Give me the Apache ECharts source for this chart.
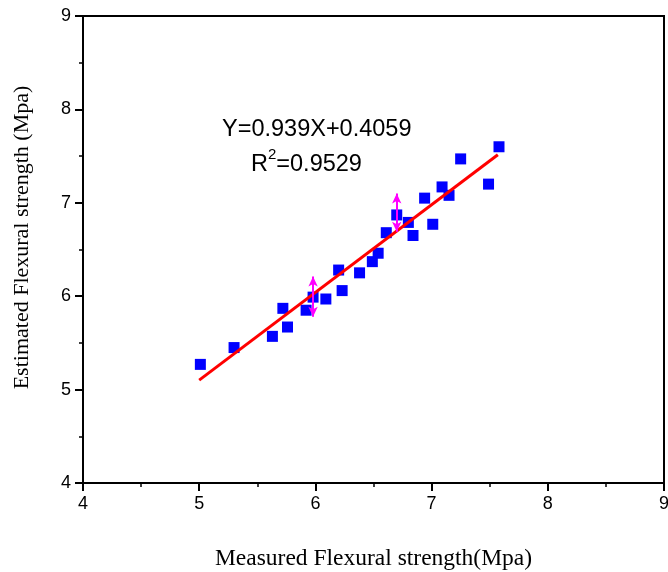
<!DOCTYPE html>
<html>
<head>
<meta charset="utf-8">
<title>Flexural strength: estimated vs measured</title>
<script src="https://cdn.jsdelivr.net/npm/echarts@6/dist/echarts.min.js"></script>
<style>
  html, body { margin: 0; padding: 0; background: #fff; }
  #chart { width: 668px; height: 572px; }
</style>
</head>
<body>
<div id="chart"></div>
<script>
// Measured vs estimated flexural strength (MPa), one pair per specimen
const measured = [5.01, 5.30, 5.63, 5.72, 5.76, 5.92, 5.98, 6.09, 6.20, 6.23, 6.38, 6.49,
                  6.54, 6.61, 6.70, 6.80, 6.84, 6.94, 7.01, 7.09, 7.15, 7.25, 7.49, 7.58];
const estimated = [5.27, 5.45, 5.57, 5.87, 5.67, 5.85, 5.99, 5.97, 6.28, 6.06, 6.25, 6.37,
                   6.46, 6.68, 6.87, 6.79, 6.65, 7.05, 6.77, 7.17, 7.08, 7.47, 7.20, 7.60];

// Linear fit Y = slope * X + intercept, drawn over the measured range
const slope = 0.939;
const intercept = 0.4059;
const rSquared = 0.9529;
const fitRange = [5.0, 7.57];

// Highlighted specimens with their spread (vertical double arrows)
const arrowX = [5.98, 6.70];
const arrowLow = [5.78, 6.69];
const arrowHigh = [6.21, 7.10];

// Axis ticks
const axisMin = 4;
const axisMax = 9;
const axisStep = 1;

const points = measured.map((m, i) => [m, estimated[i]]);
const fitLine = fitRange.map(x => [x, slope * x + intercept]);
const arrows = arrowX.map((x, i) => [{ coord: [x, arrowLow[i]] }, { coord: [x, arrowHigh[i]] }]);

const sans = 'Liberation Sans, Arial, sans-serif';
const serif = 'Liberation Serif, Times New Roman, serif';

function valueAxis(name, gap, extra) {
  return Object.assign({
    type: 'value',
    min: axisMin,
    max: axisMax,
    interval: axisStep,
    name: name,
    nameLocation: 'middle',
    nameGap: gap,
    nameTextStyle: { fontFamily: serif, fontSize: 23.5, color: '#000' },
    axisLine: { show: true, onZero: false, lineStyle: { color: '#000', width: 2 } },
    axisTick: { show: true, inside: false, length: 8, lineStyle: { color: '#000', width: 2 } },
    minorTick: { show: true, splitNumber: 2, length: 4, lineStyle: { color: '#000', width: 1.5 } },
    axisLabel: { fontFamily: sans, fontSize: 18, color: '#000', margin: 12, showMaxLabel: true, showMinLabel: true },
    splitLine: { show: false }
  }, extra || {});
}

const chart = echarts.init(document.getElementById('chart'), null, { renderer: 'canvas' });

chart.setOption({
  animation: false,
  backgroundColor: '#fff',
  grid: {
    left: 83, right: 4, top: 16, bottom: 89,
    outerBoundsMode: 'none',
    containLabel: false,
    show: true, borderColor: '#000', borderWidth: 2, backgroundColor: 'transparent'
  },
  xAxis: valueAxis('Measured Flexural strength(Mpa)', 64),
  yAxis: valueAxis('Estimated Flexural strength (Mpa)', 50, {
    nameRotate: 90,
    nameTextStyle: { fontFamily: serif, fontSize: 22, color: '#000', padding: [0, 0, 0, 24] }
  }),
  graphic: [
    {
      type: 'text', left: 222, top: 118, z: 100,
      style: { text: 'Y=' + slope + 'X+' + intercept, font: '23.5px ' + sans, fill: '#000' }
    },
    {
      type: 'text', left: 251, top: 147, z: 100,
      style: {
        text: '{b|R}{s|2}{b|=' + rSquared + '}',
        font: '23.5px ' + sans, fill: '#000',
        rich: {
          b: { fontFamily: sans, fontSize: 23.5, fill: '#000', verticalAlign: 'bottom' },
          s: { fontFamily: sans, fontSize: 15, fill: '#000', verticalAlign: 'top', padding: [0, 0, 15, 0] }
        }
      }
    }
  ],
  series: [
    {
      type: 'scatter',
      data: points,
      symbol: 'rect',
      symbolSize: 11,
      itemStyle: { color: '#0000ff', opacity: 1 },
      z: 2,
      silent: true
    },
    {
      type: 'line',
      data: fitLine,
      showSymbol: false,
      symbol: 'none',
      lineStyle: { color: '#ff0000', width: 3 },
      z: 3,
      silent: true
    },
    {
      type: 'line',
      data: [],
      z: 4,
      silent: true,
      markLine: {
        silent: true,
        symbol: ['arrow', 'arrow'],
        symbolSize: [7, 10],
        label: { show: false },
        lineStyle: { color: '#ff00ff', width: 2, type: 'solid' },
        emphasis: { disabled: true },
        data: arrows
      }
    }
  ]
});
</script>
</body>
</html>
